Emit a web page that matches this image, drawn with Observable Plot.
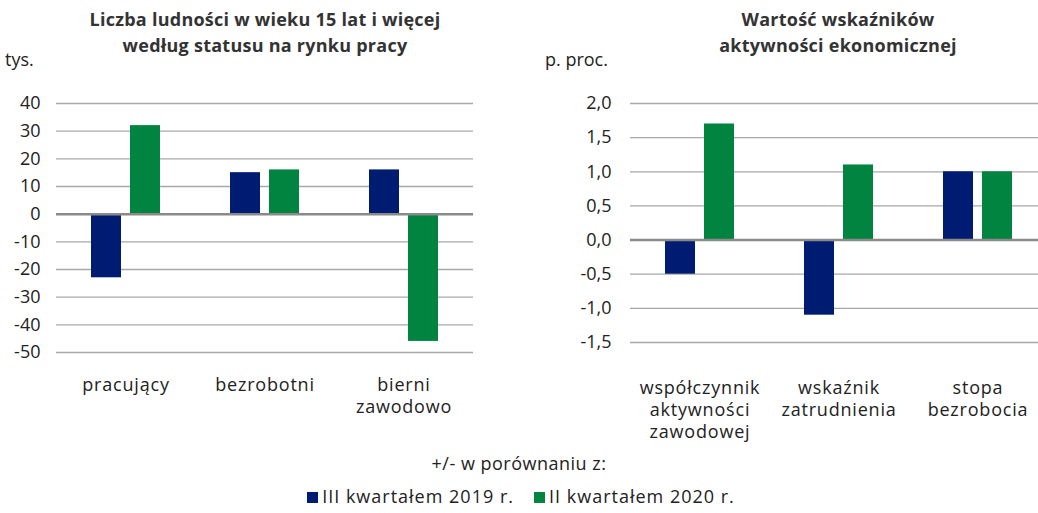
<!DOCTYPE html>
<html><head><meta charset="utf-8">
<script src="https://cdn.jsdelivr.net/npm/d3@7"></script>
<script src="https://cdn.jsdelivr.net/npm/@observablehq/plot@0.6"></script>
<style>
html,body{margin:0;padding:0;background:#fff;overflow:hidden}
#wrap{position:relative;width:1038px;height:513px;overflow:hidden;font-family:"Open Sans",Roboto,sans-serif;color:#222}
#wrap svg{position:absolute;top:0}
#wrap [aria-label="fx-axis tick label"] text{letter-spacing:0.8px}
.title{position:absolute;top:6px;width:440px;text-align:center;font-weight:bold;font-size:18px;letter-spacing:0.25px;line-height:26px;color:#333}
.unit{position:absolute;top:47px;font-size:18px;color:#222}
#note{position:absolute;top:451px;left:0;width:1038px;text-align:center;font-size:18px;letter-spacing:0.5px}
#legend{position:absolute;top:484px;left:0;width:1042px;text-align:center;font-size:18px;letter-spacing:1px}
#legend span.sw{display:inline-block;width:11px;height:11px;margin-right:4px;vertical-align:0px}
#legend span.item{margin:0 10px}
</style>
</head><body>
<div id="wrap">
  <div class="title" style="left:45px">Liczba ludności w wieku 15 lat i więcej<br>według statusu na rynku pracy</div>
  <div class="title" style="left:618px">Wartość wskaźników<br>aktywności ekonomicznej</div>
  <div class="unit" style="left:5px">tys.</div>
  <div class="unit" style="left:545px">p. proc.</div>
  <div id="note">+/- w porównaniu z:</div>
  <div id="legend"></div>
</div>
<script>
const series = ["III kwartałem 2019 r.", "II kwartałem 2020 r."];
const seriesColors = ["#001c72", "#00843f"];

const popCategories = ["pracujący", "bezrobotni", "bierni zawodowo"];
const popLabels = ["pracujący", "bezrobotni", "bierni\nzawodowo"];
const popQ3_2019 = [-23, 15, 16];
const popQ2_2020 = [32, 16, -46];
const popTicks = [-50, -40, -30, -20, -10, 0, 10, 20, 30, 40];

const rateCategories = ["współczynnik aktywności zawodowej", "wskaźnik zatrudnienia", "stopa bezrobocia"];
const rateLabels = ["współczynnik\naktywności\nzawodowej", "wskaźnik\nzatrudnienia", "stopa\nbezrobocia"];
const rateQ3_2019 = [-0.5, -1.1, 1.0];
const rateQ2_2020 = [1.7, 1.1, 1.0];
const rateTicks = [-1.5, -1.0, -0.5, 0.0, 0.5, 1.0, 1.5, 2.0];

function chart({cats, labels, a, b, ticks, fmt, width, height, marginLeft, marginRight, marginTop, marginBottom, tickPadding, fxPadding}) {
  const rows = cats.flatMap((c, i) => [
    {cat: c, s: series[0], v: a[i]},
    {cat: c, s: series[1], v: b[i]}
  ]);
  return Plot.plot({
    width, height, marginLeft, marginRight, marginTop, marginBottom,
    style: {fontFamily: "'Open Sans', Roboto, sans-serif", fontSize: "18px", color: "#222", background: "transparent", overflow: "visible"},
    fx: {domain: cats, padding: 0, label: null},
    x: {domain: series, paddingInner: 0.228, paddingOuter: 0.87, axis: null},
    y: {domain: [ticks[0], ticks[ticks.length - 1]], label: null},
    color: {domain: series, range: seriesColors},
    marks: [
      Plot.gridY(ticks, {stroke: "#a8a8a8", strokeOpacity: 1, strokeWidth: 1.3}),
      Plot.axisY(ticks, {tickFormat: fmt, tickSize: 0, tickPadding, label: null, fontSize: 18}),
      Plot.axisFx({anchor: "bottom", tickSize: 0, tickPadding: fxPadding, tickFormat: c => labels[cats.indexOf(c)], lineHeight: 1.22, label: null, fontSize: 18}),
      Plot.barY(rows, {fx: "cat", x: "s", y: "v", fill: "s"}),
      Plot.ruleY([0], {stroke: "#8a8a8a", strokeWidth: 2.5})
    ]
  });
}

const wrap = document.getElementById("wrap");

const left = chart({
  cats: popCategories, labels: popLabels, a: popQ3_2019, b: popQ2_2020, ticks: popTicks,
  fmt: d => d < 0 ? "-" + Math.abs(d) : String(d),
  width: 500, height: 440, marginLeft: 56, marginRight: 27, marginTop: 103, marginBottom: 88, tickPadding: 16, fxPadding: 23
});
left.style.left = "0px";
wrap.appendChild(left);

const right = chart({
  cats: rateCategories, labels: rateLabels, a: rateQ3_2019, b: rateQ2_2020, ticks: rateTicks,
  fmt: d => (d < 0 ? "-" : "") + Math.abs(d).toFixed(1).replace(".", ","),
  width: 528, height: 440, marginLeft: 109, marginRight: 0, marginTop: 103, marginBottom: 98, tickPadding: 19, fxPadding: 36
});
right.style.left = "520px";
wrap.appendChild(right);

const legend = document.getElementById("legend");
series.forEach((s, i) => {
  const item = document.createElement("span");
  item.className = "item";
  const sw = document.createElement("span");
  sw.className = "sw";
  sw.style.background = seriesColors[i];
  item.appendChild(sw);
  item.appendChild(document.createTextNode(s));
  legend.appendChild(item);
});
</script>
</body></html>
